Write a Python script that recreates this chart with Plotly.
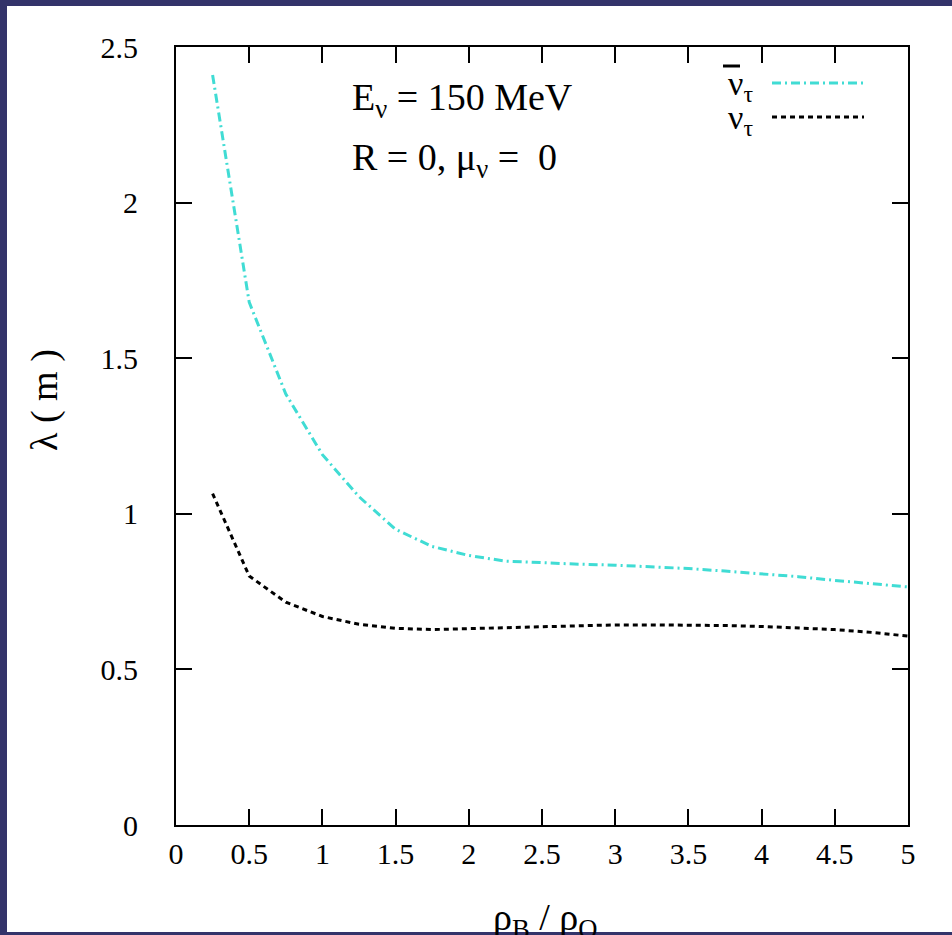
import plotly.graph_objects as go

# density ratio rho_B / rho_0 (same grid for both curves)
rho = [0.25, 0.5, 0.75, 1.0, 1.25, 1.5, 1.75, 2.0, 2.25, 2.5, 2.75, 3.0,
       3.25, 3.5, 3.75, 4.0, 4.25, 4.5, 4.75, 5.0]

# mean free path lambda (m)
lam_antinu = [2.41, 1.68, 1.385, 1.19, 1.055, 0.95, 0.895, 0.866, 0.848, 0.842,
              0.838, 0.835, 0.830, 0.824, 0.816, 0.807, 0.798, 0.786, 0.776, 0.765]
lam_nu = [1.065, 0.80, 0.716, 0.67, 0.645, 0.632, 0.628, 0.631, 0.634, 0.637,
          0.640, 0.643, 0.643, 0.643, 0.641, 0.638, 0.634, 0.628, 0.619, 0.607]

x_ticks = [0, 0.5, 1, 1.5, 2, 2.5, 3, 3.5, 4, 4.5, 5]
x_ticktext = ["0", "0.5", "1", "1.5", "2", "2.5", "3", "3.5", "4", "4.5", "5"]
y_ticks = [0, 0.5, 1, 1.5, 2, 2.5]
y_ticktext = ["0", "0.5", "1", "1.5", "2", "2.5"]

CYAN = "#40dcd4"
NAVY = "#33336a"
SERIF = "Liberation Serif"
CYAN_DASH = "9px,4px,2px,4px"
BLACK_DASH = "5px,4px"

W, H = 952, 935
L, R, T, B = 176, 44, 47, 110


def px(xp, yp):
    # pixel position -> paper coordinates (for decorations only)
    return (xp - L) / (W - L - R), (H - B - yp) / (H - T - B)


fig = go.Figure()
fig.add_trace(go.Scatter(x=rho, y=lam_antinu, mode="lines", name="anti-nu_tau",
                         line=dict(color=CYAN, width=3, dash=CYAN_DASH)))
fig.add_trace(go.Scatter(x=rho, y=lam_nu, mode="lines", name="nu_tau",
                         line=dict(color="black", width=3, dash=BLACK_DASH)))

axis_common = dict(showgrid=False, zeroline=False, showline=True, linecolor="black",
                   linewidth=2, mirror="ticks", ticks="inside", ticklen=16,
                   tickwidth=1.5, tickcolor="black",
                   tickfont=dict(family=SERIF, size=30, color="black"))
fig.update_xaxes(range=[0, 5], tickvals=x_ticks, ticktext=x_ticktext,
                 ticklabelstandoff=1, **axis_common)
fig.update_yaxes(range=[0, 2.5], tickvals=y_ticks, ticktext=y_ticktext,
                 ticklabelstandoff=30, **axis_common)

shapes = []
# white page with a navy frame
x0, y0 = px(7, 6)
x1, y1 = px(952, 932)
shapes.append(dict(type="rect", xref="paper", yref="paper", x0=x0, y0=y1, x1=x1, y1=y0,
                   fillcolor="white", line=dict(width=0), layer="below"))
# legend samples
a0, ay = px(772, 83)
a1, _ = px(864, 83)
_, by = px(0, 117)
shapes.append(dict(type="line", xref="paper", yref="paper", x0=a0, x1=a1, y0=ay, y1=ay,
                   line=dict(color=CYAN, width=3, dash=CYAN_DASH)))
shapes.append(dict(type="line", xref="paper", yref="paper", x0=a0, x1=a1, y0=by, y1=by,
                   line=dict(color="black", width=3, dash=BLACK_DASH)))
# bar over the anti-neutrino symbol
m0, my = px(723, 66)
m1, _ = px(740, 66)
shapes.append(dict(type="line", xref="paper", yref="paper", x0=m0, x1=m1, y0=my, y1=my,
                   line=dict(color="black", width=3)))

annotations = []


def note(text, xp, yp, size, xanchor="center", yanchor="middle", angle=0):
    xx, yy = px(xp, yp)
    annotations.append(dict(text=text, x=xx, y=yy, xref="paper", yref="paper",
                            xanchor=xanchor, yanchor=yanchor, showarrow=False,
                            textangle=angle,
                            font=dict(family=SERIF, size=size, color="black")))


note("E<sub>ν</sub> = 150 MeV", 350, 100, 38, xanchor="left")
note("R = 0, μ<sub>ν</sub> =  0", 350, 160, 38, xanchor="left")
note("ν<sub>τ</sub>", 755, 86, 34, xanchor="right")
note("ν<sub>τ</sub>", 755, 120, 34, xanchor="right")
note("λ ( m )", 44, 400, 38, angle=-90)
note("ρ<sub>B</sub> / ρ<sub>O</sub>", 545, 920, 38)

fig.update_layout(width=W, height=H, margin=dict(l=L, r=R, t=T, b=B),
                  paper_bgcolor=NAVY, plot_bgcolor="white", showlegend=False,
                  shapes=shapes, annotations=annotations)

fig.write_html("out.html", config={"displayModeBar": False},
               post_script="document.body.style.margin='0';")
